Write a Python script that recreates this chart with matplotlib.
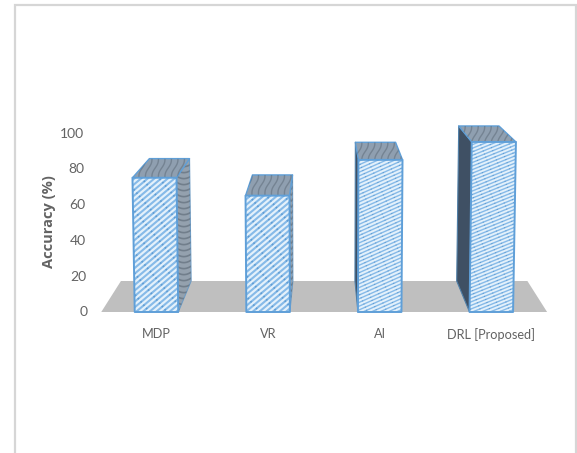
from __future__ import annotations

import matplotlib
matplotlib.use("Agg")
import matplotlib.pyplot as plt
import numpy as np
from matplotlib.collections import LineCollection
from matplotlib.patches import Polygon

# ── Chart data ─────────────────────────────────────────────────────────────────
categories = ["MDP", "VR", "AI", "DRL [Proposed]"]
accuracy = [75, 65, 85, 95]
y_ticks = [0, 20, 40, 60, 80, 100]

# ── Style tokens ───────────────────────────────────────────────────────────────
_FONT = ["Lato", "DejaVu Sans"]
_TEXT = "#636363"
_FRAME = "#d6d6d6"
_FLOOR = "#bfbfbf"
_EDGE = "#5f9fd8"
_FRONT = "#e4f1fb"
_STRIPE = "#86baE8"
_DOT = "#4f8fc8"
_TOP = "#8f9fb0"
_SIDE_LIGHT = "#94a1ae"
_SIDE_DARK = "#3f5064"
_WAVE = "#55626f"

# stripe angle, spacing and weight differ per bar
_STRIPE_ANGLE = [40, 40, 24, 22]
_STRIPE_GAP = [4.3, 4.3, 3.4, 3.3]
_STRIPE_LW = [1.5, 1.5, 1.0, 1.0]

# ── Projection: (category position, value, depth) -> figure pixels ─────────────
_X0 = 156.5
_DX = 111.6
_Y0 = 312.0
_PX_PER_UNIT = 1.79
_VP = np.array([324.0, -39.0])
_BACK = 0.9117
_LEAN = 0.00016
_HALF_BAR = 0.195
_FLOOR_LEFT = -0.495
_FLOOR_RIGHT = 3.5


def project(pos: float, value: float, depth: float = 0.0) -> tuple[float, float]:
    x = _X0 + pos * _DX
    x = x + (x - _VP[0]) * _LEAN * value
    front = np.array([x, _Y0 - value * _PX_PER_UNIT])
    scale = 1.0 + (_BACK - 1.0) * depth
    pt = _VP + (front - _VP) * scale
    return float(pt[0]), float(pt[1])


def add_face(ax, pts, color, zorder, edge=_EDGE, lw=1.2):
    patch = Polygon(pts, closed=True, facecolor=color, edgecolor=edge, linewidth=lw,
                    joinstyle="round", zorder=zorder)
    ax.add_patch(patch)
    return patch


def add_stripes(ax, patch, pts, angle, gap, lw, zorder):
    """Diagonal stripes with a dotted overlay, clipped to a face."""
    pts = np.asarray(pts)
    cx, cy = pts.mean(axis=0)
    reach = np.hypot(*(pts.max(axis=0) - pts.min(axis=0)))
    theta = np.radians(angle)
    along = np.array([np.cos(theta), -np.sin(theta)])
    across = np.array([np.sin(theta), np.cos(theta)])
    segs = []
    for off in np.arange(-reach, reach, gap):
        mid = np.array([cx, cy]) + across * off
        segs.append([mid - along * reach, mid + along * reach])
    lines = LineCollection(segs, colors=_STRIPE, linewidths=lw, zorder=zorder)
    dots = LineCollection(segs, colors=_DOT, linewidths=lw * 0.8, alpha=0.7,
                          linestyles=[(0, (1.0, 7.0))], zorder=zorder + 0.1)
    for coll in (lines, dots):
        ax.add_collection(coll)
        coll.set_clip_path(patch)


def add_waves(ax, patch, pts, gap, lw, alpha, zorder, vertical=False):
    """Curved mottling used on the shaded faces."""
    pts = np.asarray(pts)
    x_min, y_min = pts.min(axis=0)
    x_max, y_max = pts.max(axis=0)
    segs = []
    if vertical:
        for x0 in np.arange(x_min, x_max + gap, gap):
            t = np.linspace(y_min, y_max, 30)
            segs.append(np.column_stack([x0 + (t - y_min) * -0.35 + 1.0 * np.sin((t - y_min) / 3.0), t]))
    else:
        for y0 in np.arange(y_min, y_max + gap, gap):
            t = np.linspace(x_min, x_max, 20)
            mid = (x_min + x_max) / 2
            segs.append(np.column_stack([t, y0 + 2.0 - ((t - mid) / max(x_max - x_min, 1) * 2) ** 2 * 2.5]))
    lines = LineCollection(segs, colors=_WAVE, linewidths=lw, alpha=alpha, zorder=zorder)
    ax.add_collection(lines)
    lines.set_clip_path(patch)


fig = plt.figure(figsize=(5.77, 4.53), dpi=100, facecolor="white")
ax = fig.add_axes([0, 0, 1, 1])
ax.set_xlim(0, 577)
ax.set_ylim(453, 0)
ax.axis("off")

# outer frame, open at the bottom
ax.plot([14.5, 14.5, 575.5, 575.5], [453, 5, 5, 453], color=_FRAME, lw=1.6, zorder=1,
        solid_joinstyle="miter")

# floor
floor = [project(_FLOOR_LEFT, 0), project(_FLOOR_RIGHT, 0),
         project(_FLOOR_RIGHT, 0, 1), project(_FLOOR_LEFT, 0, 1)]
ax.add_patch(Polygon(floor, closed=True, facecolor=_FLOOR, edgecolor="none", zorder=2))

# bars
for i, (name, val) in enumerate(zip(categories, accuracy)):
    l, r = i - _HALF_BAR, i + _HALF_BAR
    base_x = _X0 + i * _DX

    # side wall on the vanishing-point side
    side_pos = r if base_x < _VP[0] else l
    side = [project(side_pos, 0), project(side_pos, val),
            project(side_pos, val, 1), project(side_pos, 0, 1)]
    is_left = side_pos == l
    side_col = _SIDE_DARK if is_left else _SIDE_LIGHT
    side_patch = add_face(ax, side, side_col, 3, edge="#6f9cc4" if not is_left else "#4f7fa8", lw=0.8)
    if not is_left:
        add_waves(ax, side_patch, side, 6.0, 1.2, 0.55, 3.1)

    top = [project(l, val), project(r, val), project(r, val, 1), project(l, val, 1)]
    top_patch = add_face(ax, top, _TOP, 4, lw=1.0)
    add_waves(ax, top_patch, top, 6.5, 1.0, 0.45, 4.1, vertical=True)

    front = [project(l, 0), project(r, 0), project(r, val), project(l, val)]
    front_patch = add_face(ax, front, _FRONT, 5, lw=0)
    add_stripes(ax, front_patch, front, _STRIPE_ANGLE[i], _STRIPE_GAP[i], _STRIPE_LW[i], 5.1)
    add_face(ax, front, "none", 6, lw=1.4)

    ax.text(base_x, 334.5, name, family=_FONT, fontsize=9.2, color=_TEXT, ha="center", va="center")

# value axis labels
for tick in y_ticks:
    x, y = project(-0.62, tick)
    ax.text(x, y + 0.5, str(tick), family=_FONT, fontsize=10, color=_TEXT, ha="right", va="center")

ax.text(49, 222, "Accuracy (%)", family=["Open Sans", "DejaVu Sans"], fontsize=10.5, fontweight="bold",
        color=_TEXT, rotation=90, ha="center", va="center")

fig.savefig("out.png", dpi=100, facecolor="white")
plt.close(fig)
